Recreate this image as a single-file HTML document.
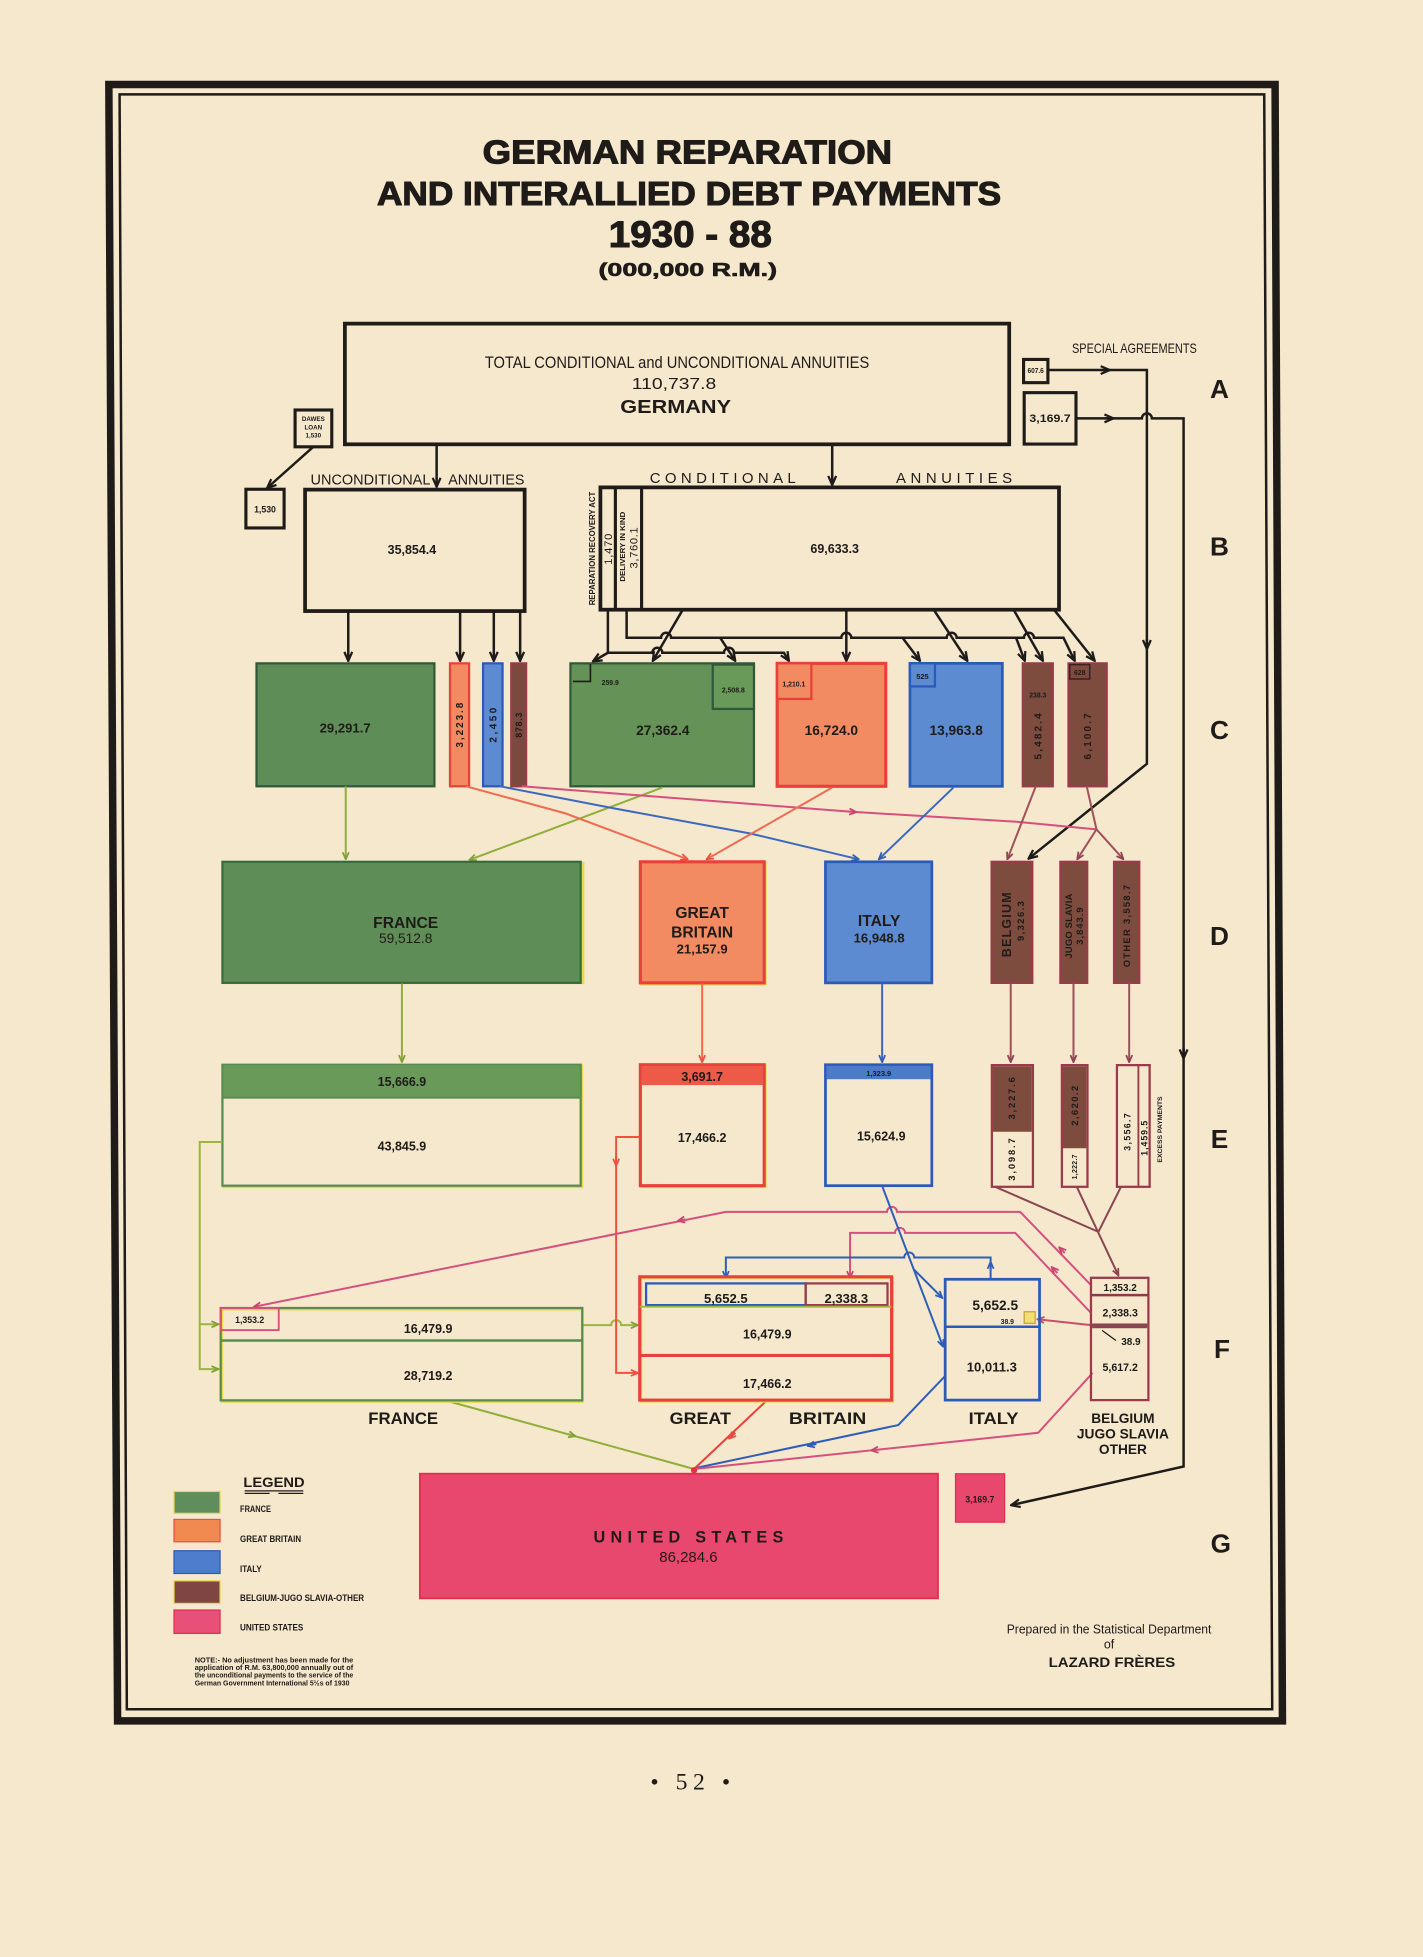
<!DOCTYPE html>
<html><head><meta charset="utf-8"><style>
html,body{margin:0;padding:0;background:#f5e8cd;}
svg{display:block;}
text{fill:#1e1b18;}
.b{font-weight:bold;}
.t{stroke:#1e1b18;stroke-width:0.9;}
</style></head><body>
<svg xmlns="http://www.w3.org/2000/svg" width="1423" height="1957" viewBox="0 0 1140 1568" preserveAspectRatio="none" font-family="'Liberation Sans', Arial, sans-serif">
<defs>
<marker id="ak" viewBox="0 0 10 10" refX="9" refY="5" markerWidth="9" markerHeight="9" markerUnits="userSpaceOnUse" orient="auto"><path d="M1,1.5 L9,5 L1,8.5" fill="none" stroke="#1e1b18" stroke-width="2"/></marker>
<marker id="ag" viewBox="0 0 10 10" refX="9" refY="5" markerWidth="7" markerHeight="7" markerUnits="userSpaceOnUse" orient="auto"><path d="M1,1.5 L9,5 L1,8.5" fill="none" stroke="#7fa036" stroke-width="2"/></marker>
<marker id="ar" viewBox="0 0 10 10" refX="9" refY="5" markerWidth="7" markerHeight="7" markerUnits="userSpaceOnUse" orient="auto"><path d="M1,1.5 L9,5 L1,8.5" fill="none" stroke="#ec5040" stroke-width="2"/></marker>
<marker id="ab" viewBox="0 0 10 10" refX="9" refY="5" markerWidth="7" markerHeight="7" markerUnits="userSpaceOnUse" orient="auto"><path d="M1,1.5 L9,5 L1,8.5" fill="none" stroke="#2f5eb8" stroke-width="2"/></marker>
<marker id="ap" viewBox="0 0 10 10" refX="9" refY="5" markerWidth="7" markerHeight="7" markerUnits="userSpaceOnUse" orient="auto"><path d="M1,1.5 L9,5 L1,8.5" fill="none" stroke="#c8446e" stroke-width="2"/></marker>
<marker id="an" viewBox="0 0 10 10" refX="9" refY="5" markerWidth="7" markerHeight="7" markerUnits="userSpaceOnUse" orient="auto"><path d="M1,1.5 L9,5 L1,8.5" fill="none" stroke="#8a4650" stroke-width="2"/></marker>
</defs>
<rect x="0" y="0" width="1140" height="1568" fill="#f5e8cd"/>

<!-- frame -->
<polygon points="87.2,67.7 1021.5,67.7 1027.4,1378.8 94.2,1378.8" fill="none" stroke="#1e1b18" stroke-width="6"/>
<polygon points="95.8,75.6 1012.8,75.6 1019.2,1369.5 101.6,1369.5" fill="none" stroke="#1e1b18" stroke-width="2"/>

<!-- title -->
<text class="b t" x="550.7" y="131" font-size="26.5" text-anchor="middle" textLength="328" lengthAdjust="spacingAndGlyphs">GERMAN REPARATION</text>
<text class="b t" x="552" y="164.3" font-size="26.5" text-anchor="middle" textLength="500" lengthAdjust="spacingAndGlyphs">AND INTERALLIED DEBT PAYMENTS</text>
<text class="b t" x="553" y="197.8" font-size="30" text-anchor="middle" textLength="130.6" lengthAdjust="spacingAndGlyphs">1930 - 88</text>
<text class="b t" x="551" y="221" font-size="15" text-anchor="middle" textLength="143" lengthAdjust="spacingAndGlyphs" style="stroke-width:0.5">(000,000 R.M.)</text>

<!-- row letters -->
<g class="b" font-size="21" text-anchor="middle">
<text class="b" x="977" y="319">A</text>
<text class="b" x="977" y="445">B</text>
<text class="b" x="977" y="592">C</text>
<text class="b" x="977" y="757">D</text>
<text class="b" x="977" y="920">E</text>
<text class="b" x="979" y="1088">F</text>
<text class="b" x="978" y="1244">G</text>
</g>

<!-- Germany box -->
<rect x="276.3" y="259.3" width="532.2" height="96.7" fill="none" stroke="#1e1b18" stroke-width="3"/>
<text x="542.4" y="295" font-size="13.5" text-anchor="middle" textLength="308" lengthAdjust="spacingAndGlyphs">TOTAL CONDITIONAL and UNCONDITIONAL ANNUITIES</text>
<text x="540" y="311.7" font-size="12.5" text-anchor="middle" textLength="67.7" lengthAdjust="spacingAndGlyphs">110,737.8</text>
<text class="b" x="541.3" y="330.8" font-size="15" text-anchor="middle" textLength="88.7" lengthAdjust="spacingAndGlyphs">GERMANY</text>

<!-- special agreements -->
<text x="908.8" y="283" font-size="11" text-anchor="middle" textLength="100" lengthAdjust="spacingAndGlyphs">SPECIAL AGREEMENTS</text>
<rect x="820" y="288" width="19.5" height="18.6" fill="none" stroke="#1e1b18" stroke-width="2.5"/>
<text class="b" x="829.7" y="299" font-size="5.5" text-anchor="middle" textLength="13" lengthAdjust="spacingAndGlyphs">607.6</text>
<rect x="820.5" y="314.6" width="41.5" height="41.2" fill="none" stroke="#1e1b18" stroke-width="2.5"/>
<text class="b" x="841.2" y="338" font-size="8.5" text-anchor="middle" textLength="33" lengthAdjust="spacingAndGlyphs">3,169.7</text>
<g fill="none" stroke="#1e1b18" stroke-width="2">
<path d="M839.5,296.5 H918.8 V612 L824,688" marker-end="url(#ak)"/>
<path d="M862,335.2 H914.8 a4,4 0 0 1 8,0 H948.2 V1175 L810,1206" marker-end="url(#ak)"/>
<path d="M882,296.5 L889,296.5" marker-end="url(#ak)"/>
<path d="M885,335.2 L892,335.2" marker-end="url(#ak)"/>
<path d="M918.8,512 L918.8,520" marker-end="url(#ak)"/>
<path d="M948.2,840 L948.2,848" marker-end="url(#ak)"/>
</g>

<!-- Dawes loan -->
<rect x="236.4" y="328.5" width="29.4" height="29.5" fill="none" stroke="#1e1b18" stroke-width="2.5"/>
<text class="b" x="251" y="337.5" font-size="5" text-anchor="middle">DAWES</text>
<text class="b" x="251" y="344" font-size="5" text-anchor="middle">LOAN</text>
<text class="b" x="251" y="350.5" font-size="5" text-anchor="middle">1,530</text>
<rect x="197" y="392" width="30.6" height="31" fill="none" stroke="#1e1b18" stroke-width="2.5"/>
<text class="b" x="212.3" y="410.5" font-size="7" text-anchor="middle">1,530</text>
<path d="M251,358 L214,391" fill="none" stroke="#1e1b18" stroke-width="2" marker-end="url(#ak)"/>

<!-- annuities labels -->
<text x="296.8" y="388" font-size="12" text-anchor="middle" textLength="96" lengthAdjust="spacingAndGlyphs">UNCONDITIONAL</text>
<text x="389.6" y="388" font-size="12" text-anchor="middle" textLength="61" lengthAdjust="spacingAndGlyphs">ANNUITIES</text>
<text x="579" y="387" font-size="12" text-anchor="middle" textLength="117" lengthAdjust="spacing">CONDITIONAL</text>
<text x="764.3" y="387" font-size="12" text-anchor="middle" textLength="93" lengthAdjust="spacing">ANNUITIES</text>
<g fill="none" stroke="#1e1b18" stroke-width="2">
<path d="M349.8,356 V390" marker-end="url(#ak)"/>
<path d="M666.7,356 V388.5" marker-end="url(#ak)"/>
</g>

<!-- B boxes -->
<rect x="244.4" y="392.3" width="175.9" height="97.3" fill="none" stroke="#1e1b18" stroke-width="3"/>
<text class="b" x="330" y="444" font-size="10" text-anchor="middle">35,854.4</text>
<rect x="481" y="390.5" width="367.4" height="98" fill="none" stroke="#1e1b18" stroke-width="3"/>
<line x1="493" y1="390.5" x2="493" y2="488.5" stroke="#1e1b18" stroke-width="2.5"/>
<line x1="514" y1="390.5" x2="514" y2="488.5" stroke="#1e1b18" stroke-width="2.5"/>
<text class="b" x="668.7" y="443" font-size="10" text-anchor="middle">69,633.3</text>
<text class="b" transform="translate(474.2,439.5) rotate(-90)" x="0" y="2.3" font-size="6.5" text-anchor="middle" textLength="91" lengthAdjust="spacingAndGlyphs">REPARATION RECOVERY ACT</text>
<text transform="translate(487,440) rotate(-90)" x="0" y="3.2" font-size="9" text-anchor="middle" textLength="25" lengthAdjust="spacing">1,470</text>
<text class="b" transform="translate(498.4,438) rotate(-90)" x="0" y="2.2" font-size="6" text-anchor="middle" textLength="56" lengthAdjust="spacingAndGlyphs">DELIVERY IN KIND</text>
<text transform="translate(507.5,439) rotate(-90)" x="0" y="3.2" font-size="9" text-anchor="middle" textLength="33" lengthAdjust="spacing">3,760.1</text>

<!-- B to C black connectors -->
<g fill="none" stroke="#1e1b18" stroke-width="2">
<path d="M279,489.6 V529.5" marker-end="url(#ak)"/>
<path d="M368.6,489.6 V529.5" marker-end="url(#ak)"/>
<path d="M395.6,489.6 V529.5" marker-end="url(#ak)"/>
<path d="M416.7,489.6 V529.5" marker-end="url(#ak)"/>
<path d="M487,488.5 V523 H522.6 a4,4 0 0 1 8,0 H580 a4,4 0 0 1 8,0 H628 L632,529.5" marker-end="url(#ak)"/>
<path d="M487,523 L475,530" marker-end="url(#ak)"/>
<path d="M502,488.5 V511 H529.6 a4,4 0 0 1 8,0 H674 a4,4 0 0 1 8,0 H758.4 a4,4 0 0 1 8,0 H820.3 a4,4 0 0 1 8,0 H852 L861,529.5" marker-end="url(#ak)"/>
<path d="M577,511 L589,529.5" marker-end="url(#ak)"/>
<path d="M723,511 L737,529.5" marker-end="url(#ak)"/>
<path d="M814,511 L821,529.5" marker-end="url(#ak)"/>
<path d="M547,488.5 L523,529.5" marker-end="url(#ak)"/>
<path d="M678,488.5 V529.5" marker-end="url(#ak)"/>
<path d="M748,488.5 L775,529.5" marker-end="url(#ak)"/>
<path d="M812,488.5 L835.5,529.5" marker-end="url(#ak)"/>
<path d="M844.4,488.5 L877,529.5" marker-end="url(#ak)"/>
</g>

<!-- Row C boxes -->
<g stroke-width="1.8">
<rect x="205.5" y="531.5" width="142.5" height="98.5" fill="#5f8d58" stroke="#2f5a3a"/>
<rect x="360.5" y="531.5" width="15.3" height="98.5" fill="#f28a62" stroke="#e8403a"/>
<rect x="387" y="531.5" width="15.6" height="98.5" fill="#5d8bd2" stroke="#2c5ab8"/>
<rect x="409.6" y="531.5" width="11.9" height="98.5" fill="#7a4a3e" stroke="#9a3a4a"/>
<rect x="457" y="531.5" width="147" height="98.5" fill="#659357" stroke="#2f5a3a"/>
<rect x="571" y="532.5" width="33" height="35.5" fill="#6a9a5a" stroke="#2f5a3a"/>
<rect x="622.6" y="531.5" width="87" height="98.5" fill="#f28a62" stroke="#e8403a" stroke-width="2.5"/>
<rect x="622.6" y="531.5" width="27.4" height="28.5" fill="#f28a62" stroke="#e8403a"/>
<rect x="729" y="531.5" width="74" height="98.5" fill="#5d8bd2" stroke="#2c5ab8" stroke-width="2.2"/>
<rect x="729" y="531.5" width="20" height="18.5" fill="#5d8bd2" stroke="#2c5ab8"/>
<rect x="819.4" y="531.5" width="24" height="98.5" fill="#7d4c3f" stroke="#9a3a4a"/>
<rect x="856" y="531.5" width="30.6" height="98.5" fill="#7d4c3f" stroke="#9a3a4a"/>
<rect x="857" y="532.5" width="16" height="11.5" fill="#7d4c3f" stroke="#3a2020" stroke-width="1.2"/>
</g>
<path d="M473,532 V546 H459" fill="none" stroke="#1e1b18" stroke-width="1.3"/>
<text class="b" x="276.5" y="587" font-size="10.5" text-anchor="middle">29,291.7</text>
<text class="b" transform="translate(368.2,581) rotate(-90)" x="0" y="2.8" font-size="8" text-anchor="middle" textLength="36" lengthAdjust="spacing">3,223.8</text>
<text class="b" transform="translate(394.8,581) rotate(-90)" x="0" y="2.8" font-size="8" text-anchor="middle" textLength="28" lengthAdjust="spacing">2,450</text>
<text class="b" transform="translate(415.6,581) rotate(-90)" x="0" y="2.5" font-size="7" text-anchor="middle" textLength="20" lengthAdjust="spacing">878.3</text>
<text class="b" x="531" y="589" font-size="11" text-anchor="middle">27,362.4</text>
<text class="b" x="587.5" y="555" font-size="5.5" text-anchor="middle">2,508.8</text>
<text class="b" x="482" y="549" font-size="5.5" text-anchor="start">259.9</text>
<text class="b" x="636" y="550" font-size="5.5" text-anchor="middle">1,210.1</text>
<text class="b" x="666" y="589" font-size="11" text-anchor="middle">16,724.0</text>
<text class="b" x="739" y="544" font-size="6" text-anchor="middle">525</text>
<text class="b" x="766" y="589" font-size="11" text-anchor="middle">13,963.8</text>
<text class="b" x="831.4" y="559" font-size="5.5" text-anchor="middle">238.3</text>
<text class="b" x="865" y="541" font-size="5.5" text-anchor="middle">628</text>
<text class="b" transform="translate(831.4,590) rotate(-90)" x="0" y="2.8" font-size="8" text-anchor="middle" textLength="37" lengthAdjust="spacing">5,482.4</text>
<text class="b" transform="translate(871.3,590) rotate(-90)" x="0" y="2.8" font-size="8" text-anchor="middle" textLength="37" lengthAdjust="spacing">6,100.7</text>

<!-- C to D colored connectors -->
<g fill="none" stroke-width="1.6">
<path d="M277,630 V688.5" stroke="#8fae3a" marker-end="url(#ag)"/>
<path d="M530.6,631 L376,689" stroke="#8fae3a" marker-end="url(#ag)"/>
<path d="M373.4,630 L453,651.7 L551,688.5" stroke="#f06a50" marker-end="url(#ar)"/>
<path d="M400.6,630 L491.9,647.7 L600.6,667.7 L688,688.5" stroke="#3c68c0" marker-end="url(#ab)"/>
<path d="M418,630 L682.2,650.4 L814.3,658.4 L878.4,664.5" stroke="#d6507e"/>
<path d="M678,650.1 L686,650.7" stroke="#d6507e" marker-end="url(#ap)"/>
<path d="M666.7,631 L566,688.5" stroke="#f06a50" marker-end="url(#ar)"/>
<path d="M763.8,631 L704,688.5" stroke="#3c68c0" marker-end="url(#ab)"/>
<path d="M829.8,630 L807,688.5" stroke="#a0505a" marker-end="url(#an)"/>
<path d="M870.6,630 L878.4,664.5 L863,688.5" stroke="#a0505a" marker-end="url(#an)"/>
<path d="M878.4,664.5 L900,688.5" stroke="#a0505a" marker-end="url(#an)"/>
</g>

<!-- Row D -->
<rect x="179.2" y="691.5" width="288" height="96" fill="none" stroke="#e8d850" stroke-width="2"/>
<rect x="178.2" y="690.5" width="287" height="97" fill="#5f8d58" stroke="#3a6a40" stroke-width="1.8"/>
<rect x="514" y="691.5" width="99.2" height="97" fill="none" stroke="#e8d850" stroke-width="2"/>
<rect x="513" y="690.5" width="99.2" height="97" fill="#f28a62" stroke="#e8403a" stroke-width="2.5"/>
<rect x="661.3" y="690.5" width="85.2" height="97" fill="#5d8bd2" stroke="#2c5ab8" stroke-width="2.2"/>
<rect x="794.4" y="690.5" width="32.6" height="97" fill="#7d4c3f" stroke="#9a3a4a" stroke-width="1.8"/>
<rect x="849.5" y="690.5" width="21.5" height="97" fill="#7d4c3f" stroke="#9a3a4a" stroke-width="1.8"/>
<rect x="892.5" y="690.5" width="20.2" height="97" fill="#7d4c3f" stroke="#9a3a4a" stroke-width="1.8"/>
<text class="b" x="325" y="743.5" font-size="12.5" text-anchor="middle">FRANCE</text>
<text x="325" y="755.5" font-size="11" text-anchor="middle">59,512.8</text>
<text class="b" x="562.5" y="735.5" font-size="12.5" text-anchor="middle">GREAT</text>
<text class="b" x="562.5" y="751" font-size="12.5" text-anchor="middle">BRITAIN</text>
<text class="b" x="562.5" y="764" font-size="10.5" text-anchor="middle">21,157.9</text>
<text class="b" x="704.3" y="742" font-size="12.5" text-anchor="middle">ITALY</text>
<text class="b" x="704.3" y="755" font-size="10.5" text-anchor="middle">16,948.8</text>
<text class="b" transform="translate(806.6,741) rotate(-90)" x="0" y="3.5" font-size="10" text-anchor="middle" textLength="52" lengthAdjust="spacing">BELGIUM</text>
<text class="b" transform="translate(817.6,738) rotate(-90)" x="0" y="2.8" font-size="7.5" text-anchor="middle" textLength="32" lengthAdjust="spacing">9,326.3</text>
<text class="b" transform="translate(856,742) rotate(-90)" x="0" y="2.8" font-size="7.5" text-anchor="middle" textLength="52" lengthAdjust="spacing">JUGO SLAVIA</text>
<text class="b" transform="translate(865,742) rotate(-90)" x="0" y="2.8" font-size="7.5" text-anchor="middle" textLength="30" lengthAdjust="spacing">3,843.9</text>
<text class="b" transform="translate(902.6,742) rotate(-90)" x="0" y="2.8" font-size="7.5" text-anchor="middle" textLength="66" lengthAdjust="spacing">OTHER 3,558.7</text>

<!-- D to E -->
<g fill="none" stroke-width="1.6">
<path d="M322,788 V851" stroke="#8fae3a" marker-end="url(#ag)"/>
<path d="M562.5,788 V851" stroke="#f06a50" marker-end="url(#ar)"/>
<path d="M706.7,788 V851" stroke="#3c68c0" marker-end="url(#ab)"/>
<path d="M809.7,788 V851" stroke="#a0505a" marker-end="url(#an)"/>
<path d="M860,788 V851" stroke="#a0505a" marker-end="url(#an)"/>
<path d="M904.6,788 V851" stroke="#a0505a" marker-end="url(#an)"/>
</g>

<!-- Row E -->
<rect x="179.2" y="854" width="287" height="97" fill="none" stroke="#e8d850" stroke-width="2"/>
<rect x="178.2" y="853.1" width="287" height="96.9" fill="#f5e8cd" stroke="#5a8a50" stroke-width="1.8"/>
<rect x="179" y="853.9" width="285.4" height="25.6" fill="#6a9a5a"/>
<line x1="178.2" y1="879.5" x2="465.2" y2="879.5" stroke="#5a8a50" stroke-width="1.5"/>
<rect x="514" y="854" width="99.2" height="97" fill="none" stroke="#e8d850" stroke-width="2"/>
<rect x="513" y="853.1" width="99.2" height="96.9" fill="#f5e8cd" stroke="#e8403a" stroke-width="2.5"/>
<rect x="514" y="854" width="97.2" height="15.4" fill="#ee5a48"/>
<rect x="661.3" y="853.1" width="85.2" height="96.9" fill="#f5e8cd" stroke="#2c5ab8" stroke-width="2.2"/>
<rect x="662.3" y="854" width="83.2" height="10.7" fill="#4c7cc8"/>
<rect x="794.6" y="853.4" width="32.9" height="97.5" fill="#f5e8cd" stroke="#9a3a4a" stroke-width="1.8"/>
<rect x="795.5" y="854.3" width="31.1" height="52.5" fill="#7d4c3f"/>
<rect x="850.7" y="853.4" width="20.5" height="97.5" fill="#f5e8cd" stroke="#9a3a4a" stroke-width="1.8"/>
<rect x="851.6" y="854.3" width="18.7" height="65.7" fill="#7d4c3f"/>
<rect x="894.8" y="853.4" width="26.2" height="97.5" fill="#f5e8cd" stroke="#9a3a4a" stroke-width="1.8"/>
<line x1="912" y1="853.4" x2="912" y2="950.9" stroke="#9a3a4a" stroke-width="1.5"/>
<text class="b" x="322" y="870" font-size="10" text-anchor="middle">15,666.9</text>
<text class="b" x="322" y="922" font-size="10" text-anchor="middle">43,845.9</text>
<text class="b" x="562.5" y="866" font-size="10" text-anchor="middle">3,691.7</text>
<text class="b" x="562.5" y="915" font-size="10" text-anchor="middle">17,466.2</text>
<text class="b" x="704" y="862" font-size="6" text-anchor="middle">1,323.9</text>
<text class="b" x="706" y="914" font-size="10" text-anchor="middle">15,624.9</text>
<text class="b" transform="translate(810.5,880) rotate(-90)" x="0" y="2.8" font-size="7.5" text-anchor="middle" textLength="34" lengthAdjust="spacing">3,227.6</text>
<text class="b" transform="translate(810.5,929) rotate(-90)" x="0" y="2.8" font-size="7.5" text-anchor="middle" textLength="34" lengthAdjust="spacing">3,098.7</text>
<text class="b" transform="translate(861,886) rotate(-90)" x="0" y="2.8" font-size="7.5" text-anchor="middle" textLength="32" lengthAdjust="spacing">2,620.2</text>
<text class="b" transform="translate(861,935) rotate(-90)" x="0" y="2" font-size="5.5" text-anchor="middle" textLength="20" lengthAdjust="spacing">1,222.7</text>
<text class="b" transform="translate(903,907) rotate(-90)" x="0" y="2.5" font-size="7" text-anchor="middle" textLength="30" lengthAdjust="spacing">3,556.7</text>
<text class="b" transform="translate(916.6,912) rotate(-90)" x="0" y="2.5" font-size="7" text-anchor="middle" textLength="28" lengthAdjust="spacing">1,459.5</text>
<text class="b" transform="translate(929,905) rotate(-90)" x="0" y="2" font-size="5" text-anchor="middle" textLength="53" lengthAdjust="spacingAndGlyphs">EXCESS PAYMENTS</text>

<!-- E to F connectors -->
<g fill="none" stroke-width="1.6">
<path d="M178,915 H160 V1097 H175" stroke="#9ab640" marker-end="url(#ag)"/>
<path d="M160,1061 H175" stroke="#9ab640" marker-end="url(#ag)"/>
<path d="M466.5,1061.7 H489.6 a4,4 0 0 1 8,0 H511" stroke="#9ab640" marker-end="url(#ag)"/>
<path d="M512.5,911 H493.6 V1100 H511" stroke="#f0503e" marker-end="url(#ar)"/>
<path d="M493.6,926 V934" stroke="#f0503e" marker-end="url(#ar)"/>
<path d="M874,1029.6 L817.3,971 H718.6 a4,4 0 0 0 -8,0 H581.5 L203.4,1047" stroke="#d6507e" marker-end="url(#ap)"/>
<path d="M549,977 L543,978.2" stroke="#d6507e" marker-end="url(#ap)"/>
<path d="M853,1004 L848.5,999.4" stroke="#d6507e" marker-end="url(#ap)"/>
<path d="M874,1052 L813.3,987.8 H725 a4,4 0 0 0 -8,0 H681 V1024" stroke="#d6507e" marker-end="url(#ap)"/>
<path d="M847,1020 L842.5,1015.2" stroke="#d6507e" marker-end="url(#ap)"/>
<path d="M797.5,951 L880,987" stroke="#8a4650"/>
<path d="M898,951 L880,987" stroke="#8a4650"/>
<path d="M862.7,951 L896,1022" stroke="#8a4650" marker-end="url(#an)"/>
<path d="M707,951 L732,1017 L755,1040" stroke="#2f5eb8" marker-end="url(#ab)"/>
<path d="M732,1017 L755.5,1079" stroke="#2f5eb8" marker-end="url(#ab)"/>
<path d="M793.6,1025 V1007.5 H732.4 a4,4 0 0 0 -8,0 H581.5 V1024" stroke="#2f5eb8" marker-end="url(#ab)"/>
<path d="M793.6,1018 V1011" stroke="#2f5eb8" marker-end="url(#ab)"/>
<path d="M757.8,1101.8 L719.6,1141.8 L556,1176.5" stroke="#2f5eb8"/>
<path d="M654,1157 L647,1158.5" stroke="#2f5eb8" marker-end="url(#ab)"/>
<path d="M614.6,1121.8 L556,1177" stroke="#ec4038"/>
<path d="M589,1148 L584,1152.7" stroke="#ec4038" marker-end="url(#ar)"/>
<path d="M356.6,1122 L556,1177" stroke="#8fae3a"/>
<path d="M455,1149 L461,1150.7" stroke="#8fae3a" marker-end="url(#ag)"/>
<path d="M875.3,1100 L831.7,1148 L556,1177" stroke="#d6507e"/>
<path d="M705,1161.4 L698,1162.1" stroke="#d6507e" marker-end="url(#ap)"/>
<path d="M874,1061.7 L831,1057" stroke="#c8506a" marker-end="url(#ap)"/>
</g>
<circle cx="556" cy="1178" r="2.5" fill="#e83040"/>

<!-- Row F: France -->
<rect x="177.8" y="1049" width="288.7" height="74" fill="none" stroke="#e8d850" stroke-width="2"/>
<rect x="176.8" y="1048" width="289.7" height="74" fill="none" stroke="#5a8a50" stroke-width="1.8"/>
<line x1="176.8" y1="1074" x2="466.5" y2="1074" stroke="#5a8a50" stroke-width="2"/>
<rect x="176.8" y="1048" width="46.5" height="17.7" fill="none" stroke="#d6507e" stroke-width="1.5"/>
<text class="b" x="200" y="1060" font-size="7" text-anchor="middle">1,353.2</text>
<text class="b" x="343" y="1068" font-size="10" text-anchor="middle">16,479.9</text>
<text class="b" x="343" y="1105.5" font-size="10" text-anchor="middle">28,719.2</text>
<text class="b" x="323" y="1141" font-size="13" text-anchor="middle" textLength="56" lengthAdjust="spacingAndGlyphs">FRANCE</text>

<!-- Row F: GB -->
<rect x="513.5" y="1024" width="201.8" height="98.8" fill="none" stroke="#e8d850" stroke-width="2"/>
<rect x="512.5" y="1023" width="201.8" height="98.8" fill="none" stroke="#e8403a" stroke-width="2.5"/>
<rect x="517.6" y="1028.3" width="127.8" height="17.4" fill="none" stroke="#2c5ab8" stroke-width="1.8"/>
<rect x="645.4" y="1028.3" width="65.6" height="17.4" fill="none" stroke="#9a3a4a" stroke-width="1.8"/>
<line x1="512.5" y1="1047" x2="714.3" y2="1047" stroke="#9ab640" stroke-width="1.5"/>
<line x1="512.5" y1="1086" x2="714.3" y2="1086" stroke="#e8403a" stroke-width="2.5"/>
<text class="b" x="581.5" y="1044" font-size="10.5" text-anchor="middle">5,652.5</text>
<text class="b" x="678" y="1044" font-size="10.5" text-anchor="middle">2,338.3</text>
<text class="b" x="614.7" y="1072.5" font-size="10" text-anchor="middle">16,479.9</text>
<text class="b" x="614.7" y="1112" font-size="10" text-anchor="middle">17,466.2</text>
<text class="b" x="561" y="1141" font-size="13" text-anchor="middle" textLength="49" lengthAdjust="spacingAndGlyphs">GREAT</text>
<text class="b" x="663" y="1141" font-size="13" text-anchor="middle" textLength="62" lengthAdjust="spacingAndGlyphs">BRITAIN</text>

<!-- Row F: Italy -->
<rect x="757.2" y="1025" width="75.6" height="96.8" fill="none" stroke="#2c5ab8" stroke-width="2.2"/>
<line x1="757.2" y1="1063" x2="832.8" y2="1063" stroke="#2c5ab8" stroke-width="2"/>
<rect x="820.5" y="1051" width="8.8" height="9.3" fill="#f0e070" stroke="#c8a040" stroke-width="1"/>
<text class="b" x="797.3" y="1049.5" font-size="11" text-anchor="middle">5,652.5</text>
<text class="b" x="807" y="1061" font-size="5.5" text-anchor="middle">38.9</text>
<text class="b" x="794.6" y="1099" font-size="10.5" text-anchor="middle">10,011.3</text>
<text class="b" x="796" y="1141" font-size="13" text-anchor="middle" textLength="40" lengthAdjust="spacingAndGlyphs">ITALY</text>

<!-- Row F: Belgium -->
<rect x="874" y="1023.8" width="46" height="98" fill="none" stroke="#9a3a4a" stroke-width="1.8"/>
<line x1="874" y1="1037.7" x2="920" y2="1037.7" stroke="#8a3a4a" stroke-width="2"/>
<rect x="874.9" y="1060.4" width="44.2" height="3.8" fill="#8a4650"/>
<path d="M883,1066 L894,1074" fill="none" stroke="#1e1b18" stroke-width="1"/>
<text class="b" x="897.4" y="1034.5" font-size="8" text-anchor="middle">1,353.2</text>
<text class="b" x="897.4" y="1055" font-size="8.5" text-anchor="middle">2,338.3</text>
<text class="b" x="906" y="1077.5" font-size="8" text-anchor="middle">38.9</text>
<text class="b" x="897.4" y="1098.5" font-size="8.5" text-anchor="middle">5,617.2</text>
<text class="b" x="899.6" y="1140" font-size="11" text-anchor="middle">BELGIUM</text>
<text class="b" x="899.6" y="1152.5" font-size="11" text-anchor="middle">JUGO SLAVIA</text>
<text class="b" x="899.6" y="1165" font-size="11" text-anchor="middle">OTHER</text>

<!-- Row G -->
<rect x="336.4" y="1180.8" width="415" height="99.8" fill="#e8486e" stroke="#e03050" stroke-width="1.5"/>
<text class="b" x="551.5" y="1236" font-size="13" text-anchor="middle" textLength="152" lengthAdjust="spacing">UNITED STATES</text>
<text x="551.5" y="1251.5" font-size="12" text-anchor="middle">86,284.6</text>
<rect x="765.5" y="1180.8" width="39.3" height="38.8" fill="#e8486e" stroke="#e03050" stroke-width="1"/>
<text class="b" x="785" y="1204" font-size="7" text-anchor="middle">3,169.7</text>

<!-- Legend -->
<text class="b" x="219.5" y="1191.5" font-size="11" text-anchor="middle" textLength="49" lengthAdjust="spacingAndGlyphs">LEGEND</text>
<line x1="196" y1="1194.5" x2="243" y2="1194.5" stroke="#1e1b18" stroke-width="1"/>
<line x1="196" y1="1196.5" x2="216" y2="1196.5" stroke="#1e1b18" stroke-width="1"/>
<line x1="223" y1="1196.5" x2="243" y2="1196.5" stroke="#1e1b18" stroke-width="1"/>
<rect x="139.4" y="1195" width="36.9" height="17.5" fill="#5f8d5e" stroke="#e8d850" stroke-width="1"/>
<rect x="139.4" y="1217.4" width="36.9" height="17.9" fill="#f08a50" stroke="#e85040" stroke-width="1"/>
<rect x="139.4" y="1242.5" width="36.9" height="18.2" fill="#4d7dcc" stroke="#2c5ab8" stroke-width="1"/>
<rect x="139.4" y="1266.6" width="36.9" height="18.1" fill="#7e4542" stroke="#e8d850" stroke-width="1"/>
<rect x="139.4" y="1290" width="36.9" height="18.7" fill="#e8507a" stroke="#e03050" stroke-width="1"/>
<g class="b" font-size="7.5">
<text class="b" x="192.3" y="1211.3" textLength="24.8" lengthAdjust="spacingAndGlyphs">FRANCE</text>
<text class="b" x="192.3" y="1235.7" textLength="48.9" lengthAdjust="spacingAndGlyphs">GREAT BRITAIN</text>
<text class="b" x="192.3" y="1259.4" textLength="17.4" lengthAdjust="spacingAndGlyphs">ITALY</text>
<text class="b" x="192.3" y="1282.6" textLength="99.4" lengthAdjust="spacingAndGlyphs">BELGIUM-JUGO SLAVIA-OTHER</text>
<text class="b" x="192.3" y="1306.6" textLength="50.7" lengthAdjust="spacingAndGlyphs">UNITED STATES</text>
</g>
<g class="b" font-size="5.5">
<text class="b" x="156" y="1332" textLength="127" lengthAdjust="spacingAndGlyphs">NOTE:- No adjustment has been made for the</text>
<text class="b" x="156" y="1338" textLength="127" lengthAdjust="spacingAndGlyphs">application of R.M. 63,800,000 annually out of</text>
<text class="b" x="156" y="1344" textLength="127" lengthAdjust="spacingAndGlyphs">the unconditional payments to the service of the</text>
<text class="b" x="156" y="1350.3" textLength="124" lengthAdjust="spacingAndGlyphs">German Government International 5½s of 1930</text>
</g>

<!-- credits -->
<text x="888.5" y="1309" font-size="10" text-anchor="middle" textLength="164" lengthAdjust="spacingAndGlyphs">Prepared in the Statistical Department</text>
<text x="888.5" y="1321" font-size="10" text-anchor="middle">of</text>
<text class="b" x="890.8" y="1335.5" font-size="11" text-anchor="middle" textLength="101.5" lengthAdjust="spacingAndGlyphs">LAZARD FRÈRES</text>

<!-- page number -->
<text x="553" y="1434" font-size="19" text-anchor="middle" font-family="'Liberation Serif', serif" textLength="64" lengthAdjust="spacing">• 52 •</text>
</svg>
</body></html>
